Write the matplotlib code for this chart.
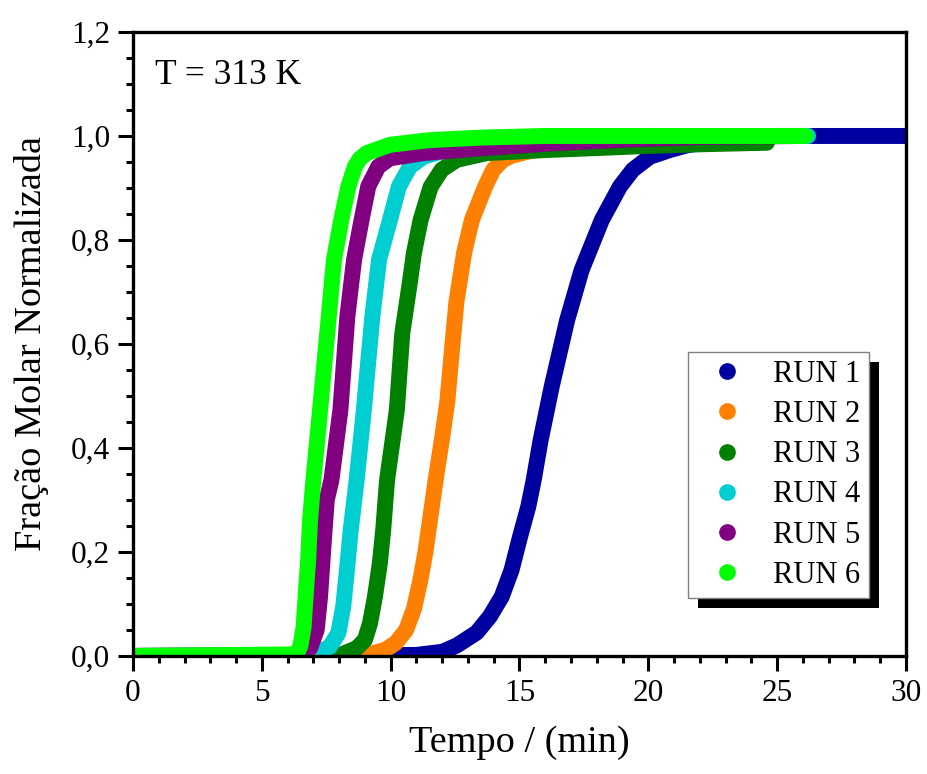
import matplotlib
matplotlib.use("Agg")
import matplotlib.pyplot as plt
from matplotlib.lines import Line2D
from matplotlib.patches import Rectangle
from matplotlib.ticker import MultipleLocator, FuncFormatter

plt.rcParams['font.family'] = ['Liberation Serif', 'DejaVu Serif']

labels = ["RUN 1", "RUN 2", "RUN 3", "RUN 4", "RUN 5", "RUN 6"]
colors = ["#0000A0", "#FF8000", "#008000", "#00CED1", "#800080", "#00FF00"]

t1 = [0, 11.0, 12.0, 12.56, 13.34, 13.85, 14.31, 14.69, 15.02, 15.34, 15.55, 15.82, 16.25, 16.85,
      17.41, 18.19, 18.9, 19.4, 20.06, 20.84, 21.5, 22.5, 23.5, 25.0, 30.0]
y1 = [0, 0.002, 0.008, 0.02, 0.045, 0.076, 0.114, 0.165, 0.229, 0.287, 0.338, 0.415, 0.518, 0.646,
      0.742, 0.838, 0.903, 0.935, 0.960, 0.973, 0.982, 0.990, 0.996, 1.0, 1.0]

t2 = [0, 9.0, 9.8, 10.2, 10.6, 10.9, 11.15, 11.35, 11.55, 11.75, 12.0, 12.2, 12.4, 12.55, 12.85,
      13.15, 13.66, 13.98, 14.36, 14.7, 15.5, 17.0, 19.0, 21.0, 24.0]
y2 = [0, 0.001, 0.012, 0.025, 0.05, 0.09, 0.145, 0.2, 0.27, 0.34, 0.42, 0.49, 0.6, 0.68, 0.775,
      0.838, 0.902, 0.935, 0.954, 0.962, 0.972, 0.98, 0.99, 0.995, 1.0]

t3 = [0, 8.0, 8.68, 9.0, 9.2, 9.39, 9.58, 9.71, 9.86, 10.24, 10.45, 10.75, 10.9, 11.16, 11.55, 11.98,
      12.56, 13.72, 16.05, 18.6, 20.0, 22.0, 24.6]
y3 = [0, 0.001, 0.015, 0.031, 0.063, 0.114, 0.178, 0.242, 0.338, 0.473, 0.62, 0.72, 0.774, 0.838,
      0.902, 0.935, 0.954, 0.967, 0.973, 0.978, 0.981, 0.984, 0.987]

t4 = [0, 7.0, 7.64, 7.97, 8.16, 8.29, 8.45, 8.68, 8.96, 9.29, 9.55, 9.97, 10.32, 10.75, 11.27,
      12.17, 14.0, 17.0, 20.0, 26.2]
y4 = [0, 0.001, 0.018, 0.044, 0.095, 0.159, 0.242, 0.338, 0.473, 0.653, 0.762, 0.838, 0.903, 0.941,
      0.960, 0.973, 0.985, 0.995, 1.0, 1.0]

t5 = [0, 6.3, 6.87, 7.13, 7.26, 7.39, 7.52, 7.7, 8.05, 8.32, 8.58, 8.87, 9.13, 9.52, 9.97, 11.25,
      13.34, 16.0, 19.0, 22.0, 26.0]
y5 = [0, 0.001, 0.015, 0.05, 0.114, 0.21, 0.30, 0.338, 0.473, 0.653, 0.762, 0.838, 0.903, 0.941,
      0.957, 0.967, 0.976, 0.985, 0.993, 0.998, 1.0]

t6 = [0, 6.35, 6.5, 6.62, 6.72, 6.8, 6.87, 7.0, 7.26, 7.6, 7.8, 8.08, 8.36, 8.61, 8.8, 9.07, 9.97,
      11.5, 13.6, 16.0, 26.1]
y6 = [0, 0.003, 0.02, 0.055, 0.13, 0.185, 0.26, 0.338, 0.473, 0.653, 0.762, 0.838, 0.903, 0.941,
      0.956, 0.967, 0.983, 0.992, 0.997, 1.0, 1.0]

series = [(t1, y1), (t2, y2), (t3, y3), (t4, y4), (t5, y5), (t6, y6)]

fig = plt.figure(figsize=(9.28, 7.74), dpi=100)
fig.patch.set_facecolor("white")
ax = fig.add_axes([0.1433, 0.1525, 0.8330, 0.8062])

for (t, y), c in zip(series, colors):
    ax.plot(t, y, '-', color=c, lw=11.5, solid_capstyle='round', solid_joinstyle='round')

ax.set_xlim(0, 30)
ax.set_ylim(0, 1.2)
ax.xaxis.set_major_locator(MultipleLocator(5))
ax.xaxis.set_minor_locator(MultipleLocator(1))
ax.yaxis.set_major_locator(MultipleLocator(0.2))
ax.yaxis.set_minor_locator(MultipleLocator(0.05))
ax.yaxis.set_major_formatter(FuncFormatter(lambda v, p: f"{v:.1f}".replace('.', ',')))
ax.xaxis.set_major_formatter(FuncFormatter(lambda v, p: f"{v:.0f}"))

for s in ax.spines.values():
    s.set_linewidth(2.4)
ax.tick_params(which='major', direction='out', length=10.5, width=2.2, labelsize=22.5, pad=6)
ax.tick_params(which='minor', direction='out', length=5, width=2.2)
ax.tick_params(top=False, right=False, which='both')

ax.set_xlabel("Tempo / (min)", fontsize=27.5)
ax.set_ylabel("Fração Molar Normalizada", fontsize=27.5)
ax.xaxis.set_label_coords(0.5, -0.112)
ax.yaxis.set_label_coords(-0.108, 0.5)

ax.text(0.0285, 0.931, "T = 313 K", transform=ax.transAxes, fontsize=25.5, va='center', ha='left')

handles = [Line2D([], [], ls='none', marker='o', markersize=11, color=c) for c in colors]
leg = ax.legend(handles, labels, loc='lower right', bbox_to_anchor=(0.952, 0.093),
                fontsize=22, frameon=True, fancybox=False, framealpha=1,
                edgecolor='#808080', labelspacing=0.365, handletextpad=0.48,
                handlelength=2.05, borderpad=0.27, borderaxespad=0)
leg.get_frame().set_linewidth(1.0)

fig.canvas.draw()
bb = leg.get_window_extent()
inv = ax.transAxes.inverted()
(x0, y0) = inv.transform((bb.x0 + 10, bb.y0 - 10))
(x1, y1_) = inv.transform((bb.x1 + 10, bb.y1 - 10))
ax.add_patch(Rectangle((x0, y0), x1 - x0, y1_ - y0, transform=ax.transAxes,
                       facecolor='black', edgecolor='none', zorder=4.9, clip_on=False))

fig.savefig("out.png", dpi=100)
